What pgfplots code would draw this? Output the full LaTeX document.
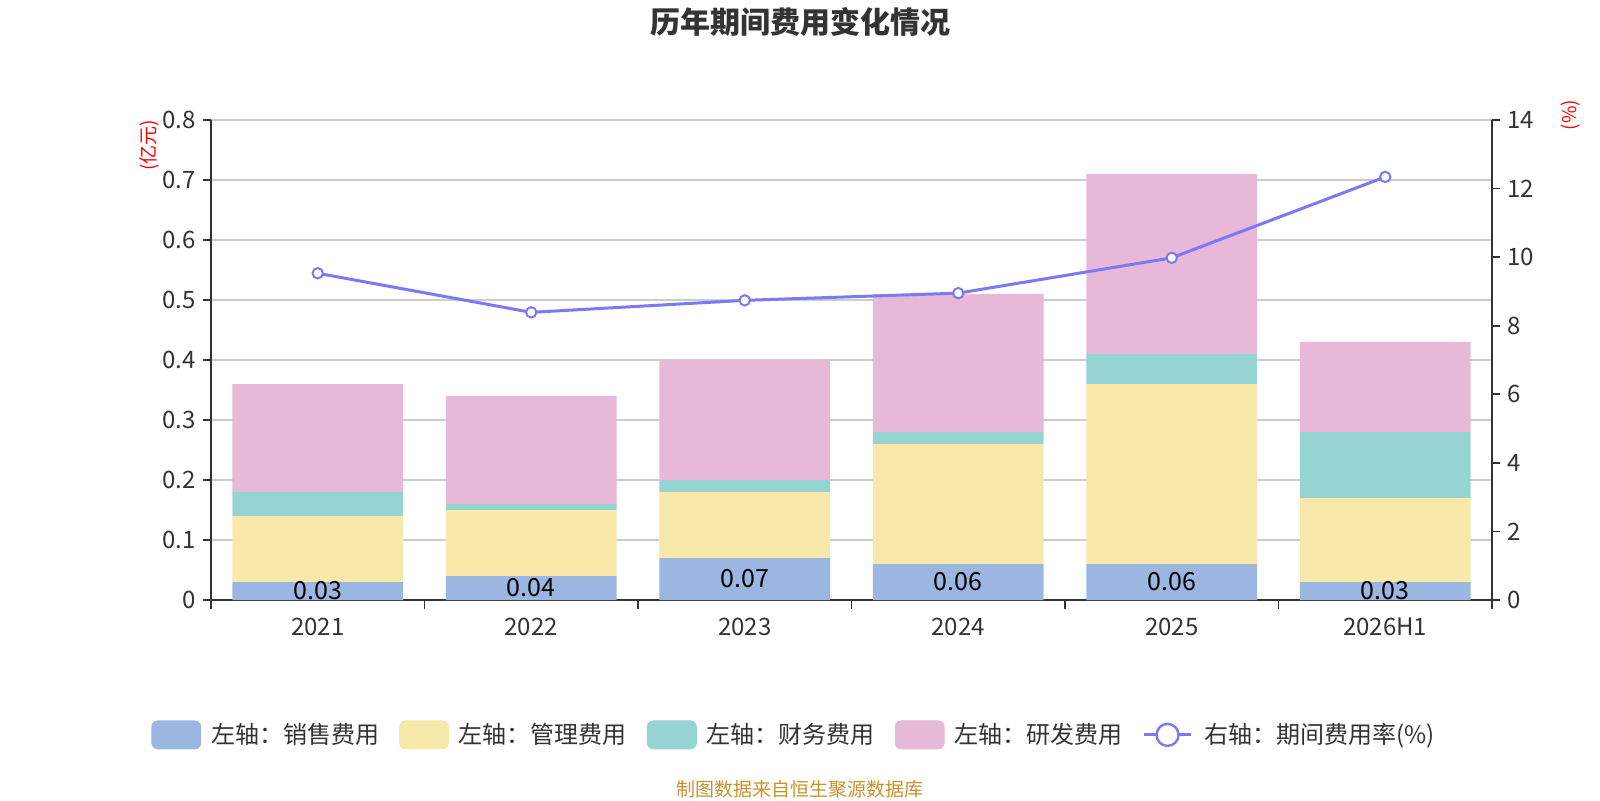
\documentclass[border=0pt]{standalone}
\usepackage{fontspec}
\setmainfont{Noto Sans CJK SC}
\usepackage{pgfplots}
\pgfplotsset{compat=1.18}
\definecolor{cblue}{HTML}{9BB7E1}
\definecolor{cyellow}{HTML}{F8E8AA}
\definecolor{cteal}{HTML}{96D3D3}
\definecolor{cpink}{HTML}{E7B8D8}
\definecolor{cline}{HTML}{7A7AF5}
\definecolor{txt}{HTML}{333333}
\definecolor{gridc}{HTML}{CCCCCC}
\definecolor{foot}{HTML}{C8922E}
\pgfplotsset{/pgf/number format/assume math mode=true}
\begin{document}
\begin{tikzpicture}[x=1pt,y=1pt]
\useasboundingbox (0,0) rectangle (800,400);
\begin{axis}[
  at={(105.5pt,100pt)}, anchor=south west, scale only axis,
  width=640.5pt, height=240pt,
  ybar stacked, bar width=0.8,
  xmin=-0.5, xmax=5.5, ymin=0, ymax=0.8,
  axis x line*=bottom, axis y line*=left,
  axis line style={draw=txt, line width=0.9pt},
  tick align=outside,
  xtick={0,1,2,3,4,5},
  xticklabels={2021,2022,2023,2024,2025,2026H1},
  major x tick style={draw=none},
  minor xtick={-0.5,0.5,1.5,2.5,3.5,4.5,5.5},
  minor x tick style={draw=txt, line width=0.9pt},
  minor tick length=4.5pt,
  ytick={0,0.1,0.2,0.3,0.4,0.5,0.6,0.7,0.8},
  yticklabels={0,0.1,0.2,0.3,0.4,0.5,0.6,0.7,0.8},
  major tick length=4pt,
  y tick style={draw=txt, line width=0.9pt},
  ymajorgrids, grid style={draw=gridc, line width=0.6pt},
  tick label style={font=\fontsize{12}{14}\selectfont, text=txt},
  xticklabel style={yshift=-1.5pt},
  clip=false,
]
\addplot+[fill=cblue, draw=none,
  nodes near coords,
  every node near coord/.append style={anchor=center, font=\fontsize{12.5}{14}\selectfont, text=black},
  /pgf/number format/.cd, fixed, precision=2, fixed zerofill]
  coordinates {(0,0.03) (1,0.04) (2,0.07) (3,0.06) (4,0.06) (5,0.03)};
\addplot+[fill=cyellow, draw=none]
  coordinates {(0,0.11) (1,0.11) (2,0.11) (3,0.20) (4,0.30) (5,0.14)};
\addplot+[fill=cteal, draw=none]
  coordinates {(0,0.04) (1,0.01) (2,0.02) (3,0.02) (4,0.05) (5,0.11)};
\addplot+[fill=cpink, draw=none]
  coordinates {(0,0.18) (1,0.18) (2,0.20) (3,0.23) (4,0.30) (5,0.15)};
\end{axis}
\begin{axis}[
  at={(105.5pt,100pt)}, anchor=south west, scale only axis,
  width=640.5pt, height=240pt,
  xmin=-0.5, xmax=5.5, ymin=0, ymax=14,
  axis x line=none, axis y line*=right,
  axis line style={draw=txt, line width=0.9pt},
  tick align=outside,
  ytick={0,2,4,6,8,10,12,14},
  major tick length=4pt,
  y tick style={draw=txt, line width=0.9pt},
  tick label style={font=\fontsize{12}{14}\selectfont, text=txt},
  clip=false,
  legend columns=5,
  legend style={draw=none, fill=none, at={(0.4560,-0.281)}, anchor=center,
    font=\fontsize{12}{14}\selectfont, text=txt,
    /tikz/every even column/.append style={column sep=8pt}},
]
\addlegendimage{legend image code/.code={\fill[cblue, rounded corners=3pt] (0pt,-7pt) rectangle (24.5pt,7pt); \path (27.5pt,0pt);}}
\addlegendentry{左轴：销售费用}
\addlegendimage{legend image code/.code={\fill[cyellow, rounded corners=3pt] (0pt,-7pt) rectangle (24.5pt,7pt); \path (27.5pt,0pt);}}
\addlegendentry{左轴：管理费用}
\addlegendimage{legend image code/.code={\fill[cteal, rounded corners=3pt] (0pt,-7pt) rectangle (24.5pt,7pt); \path (27.5pt,0pt);}}
\addlegendentry{左轴：财务费用}
\addlegendimage{legend image code/.code={\fill[cpink, rounded corners=3pt] (0pt,-7pt) rectangle (24.5pt,7pt); \path (27.5pt,0pt);}}
\addlegendentry{左轴：研发费用}
\addplot[cline, line width=1.5pt, mark=*, mark size=2.6pt,
  mark options={fill=white, draw=cline, line width=1pt},
  legend image code/.code={\draw[cline, line width=1.5pt] (0pt,0pt) -- (23.5pt,0pt);
    \draw[cline, line width=1.2pt, fill=white] (11.75pt,0pt) circle (5.5pt); \path (27.5pt,0pt);}]
  coordinates {(0,9.53) (1,8.39) (2,8.74) (3,8.95) (4,9.98) (5,12.34)};
\addlegendentry{右轴：期间费用率(\%)}
\end{axis}
\node[font=\bfseries\fontsize{15}{17}\selectfont, text=txt] at (400,388.8) {历年期间费用变化情况};
\node[font=\fontsize{9.5}{11}\selectfont, text=red, rotate=90] at (74.5,327.5) {(亿元)};
\node[font=\fontsize{9.5}{11}\selectfont, text=red, rotate=90] at (785.5,342.5) {(\%)};
\node[font=\fontsize{9.5}{11}\selectfont, text=foot] at (400,5.5) {制图数据来自恒生聚源数据库};
\end{tikzpicture}
\end{document}
